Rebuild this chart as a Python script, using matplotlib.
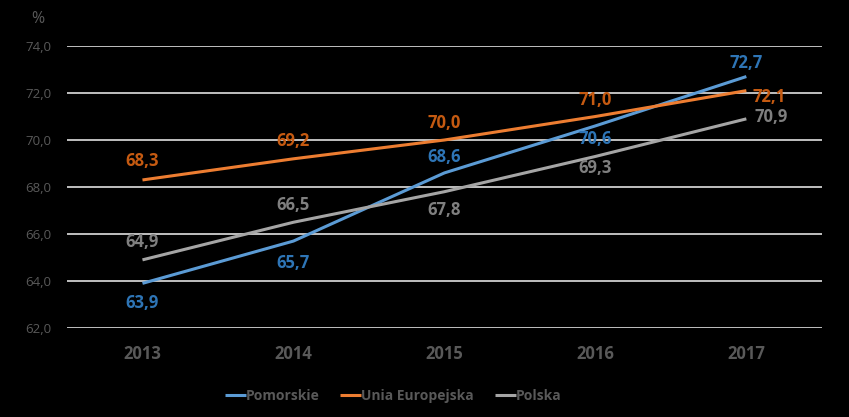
import matplotlib
matplotlib.use("Agg")
import matplotlib.pyplot as plt

plt.rcParams['font.family'] = ['Open Sans', 'DejaVu Sans']

years = ['2013', '2014', '2015', '2016', '2017']
pomorskie = [63.9, 65.7, 68.6, 70.6, 72.7]
unia = [68.3, 69.2, 70.0, 71.0, 72.1]
polska = [64.9, 66.5, 67.8, 69.3, 70.9]
yticks = [62, 64, 66, 68, 70, 72, 74]

# label placement: (dx, dy) in pixels per point
pom_off = [(0, -20), (0, -22), (0, 16), (0, -13), (0, 14)]
unia_off = [(0, 19), (0, 18), (0, 17), (0, 16), (23, -6)]
pol_off = [(0, 18), (0, 17), (0, -18), (0, -12), (25, 2)]

fig = plt.figure(figsize=(8.49, 4.17), dpi=100, facecolor='black')
ax = fig.add_axes([0.0789, 0.2134, 0.8891, 0.6763])
ax.set_facecolor('black')

x = list(range(len(years)))
series = [
    ('Pomorskie', pomorskie, '#5B9BD5', '#2E75B6', pom_off),
    ('Unia Europejska', unia, '#ED7D31', '#C55A11', unia_off),
    ('Polska', polska, '#A5A5A5', '#7F7F7F', pol_off),
]
for name, vals, c, lc, offs in series:
    ax.plot(x, vals, color=c, lw=2.2, label=name, solid_capstyle='butt')
    for xi, v, (dx, dy) in zip(x, vals, offs):
        ax.annotate(('%.1f' % v).replace('.', ','), (xi, v), xytext=(dx, dy),
                    textcoords='offset pixels', ha='center', va='center',
                    color=lc, fontsize=12, fontweight='bold')

ax.set_xlim(-0.5, 4.5)
ax.set_ylim(62, 74)
ax.set_yticks(yticks)
ax.set_yticklabels([('%.1f' % t).replace('.', ',') for t in yticks],
                   color='#595959', fontsize=9.5)
ax.set_xticks(x)
ax.set_xticklabels(years, color='#595959', fontsize=12, fontweight='bold')
ax.tick_params(axis='both', length=0)
ax.tick_params(axis='y', pad=11)
ax.tick_params(axis='x', pad=12)
ax.grid(axis='y', color='#E0E0E0', lw=1.2)
ax.set_axisbelow(True)
for s in ax.spines.values():
    s.set_visible(False)

fig.text(0.045, 0.955, '%', color='#595959', fontsize=11.5, ha='center', va='center')

leg = fig.legend(loc='center', bbox_to_anchor=(0.463, 0.05), ncol=3, frameon=False,
                 handlelength=1.5, handletextpad=0.0, columnspacing=1.5,
                 prop={'size': 10, 'weight': 'bold'})
for t in leg.get_texts():
    t.set_color('#595959')

fig.savefig('out.png', dpi=100, facecolor='black')
